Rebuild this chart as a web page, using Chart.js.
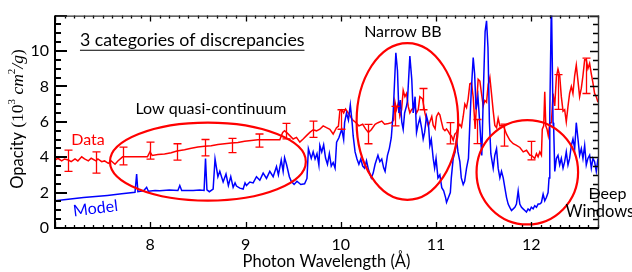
<!DOCTYPE html>
<html>
<head>
<meta charset="utf-8">
<script src="https://cdn.jsdelivr.net/npm/chart.js@4/dist/chart.umd.min.js"></script>
<style>
  html, body { margin: 0; padding: 0; background: #fff; }
</style>
</head>
<body>
<canvas id="chart" width="632" height="272"></canvas>
<script>
// model opacity (blue)
const modelWavelength = [
  7.00, 7.30, 7.55, 7.70, 7.84, 7.857, 7.87, 7.93, 7.962, 7.98, 8.05, 8.10, 8.20, 8.29, 8.31, 8.33, 8.45, 8.52, 8.565, 8.58,
  8.595, 8.62, 8.66, 8.68, 8.71, 8.73, 8.765, 8.795, 8.82, 8.845, 8.87, 8.89, 8.905, 8.94, 8.975, 8.995, 9.01, 9.045, 9.08, 9.115,
  9.15, 9.185, 9.22, 9.255, 9.29, 9.325, 9.345, 9.375, 9.395, 9.41, 9.43, 9.46, 9.48, 9.51, 9.54, 9.58, 9.62, 9.645, 9.66, 9.69,
  9.71, 9.73, 9.75, 9.77, 9.78, 9.80, 9.82, 9.84, 9.86, 9.88, 9.90, 9.92, 9.94, 9.956, 9.98, 10.01, 10.03, 10.04, 10.06, 10.08,
  10.10, 10.12, 10.13, 10.15, 10.17, 10.19, 10.21, 10.23, 10.25, 10.27, 10.29, 10.32, 10.34, 10.36, 10.39, 10.41, 10.43, 10.45, 10.465, 10.49,
  10.51, 10.53, 10.55, 10.578, 10.595, 10.61, 10.625, 10.64, 10.655, 10.67, 10.69, 10.70, 10.725, 10.745, 10.76, 10.78, 10.795, 10.81, 10.83, 10.85,
  10.865, 10.88, 10.90, 10.92, 10.935, 10.95, 10.97, 10.985, 11.00, 11.02, 11.04, 11.06, 11.08, 11.10, 11.11, 11.13, 11.15, 11.16, 11.18, 11.20,
  11.215, 11.23, 11.25, 11.265, 11.285, 11.30, 11.32, 11.34, 11.355, 11.37, 11.39, 11.405, 11.42, 11.44, 11.46, 11.48, 11.50, 11.515, 11.53, 11.545,
  11.56, 11.575, 11.60, 11.617, 11.635, 11.652, 11.67, 11.687, 11.705, 11.722, 11.74, 11.757, 11.774, 11.792, 11.81, 11.827, 11.844, 11.862, 11.879, 11.897,
  11.914, 11.932, 11.949, 11.966, 11.984, 12.00, 12.019, 12.036, 12.054, 12.071, 12.089, 12.106, 12.124, 12.141, 12.158, 12.176, 12.186, 12.194, 12.204, 12.211,
  12.22, 12.228, 12.235, 12.246, 12.263, 12.28, 12.298, 12.315, 12.333, 12.35, 12.367, 12.385, 12.402, 12.42, 12.437, 12.455, 12.472, 12.49, 12.507, 12.525,
  12.542, 12.56, 12.577, 12.594, 12.612, 12.63, 12.647, 12.664, 12.682, 12.70
];
const modelOpacity = [
  1.54, 1.72, 1.84, 1.93, 2.02, 3.05, 2.05, 2.10, 2.30, 2.08, 2.12, 2.10, 2.14, 2.12, 2.40, 2.12, 2.12, 2.14, 2.12, 3.93,
  2.15, 2.05, 2.20, 3.90, 2.90, 3.20, 2.60, 3.05, 2.40, 2.90, 2.30, 2.55, 2.37, 2.25, 2.20, 2.55, 2.40, 2.60, 2.55, 2.90,
  2.70, 3.10, 2.80, 3.20, 2.90, 3.47, 3.00, 3.84, 3.20, 3.97, 3.60, 2.90, 2.64, 2.46, 2.64, 2.46, 2.50, 2.80, 4.48, 3.93,
  4.30, 3.90, 4.20, 3.56, 4.66, 4.30, 4.70, 3.95, 3.60, 4.20, 3.50, 3.70, 3.38, 4.85, 5.10, 5.58, 5.00, 5.95, 6.50, 6.10,
  6.96, 5.90, 5.20, 4.30, 3.90, 3.60, 3.90, 3.50, 3.38, 3.80, 3.30, 2.83, 3.10, 3.60, 4.11, 3.75, 3.90, 3.40, 3.20, 4.10,
  4.50, 5.10, 6.50, 9.90, 8.90, 6.50, 7.23, 6.00, 5.58, 6.50, 6.90, 7.20, 9.71, 8.40, 6.50, 7.42, 5.40, 5.80, 6.20, 5.60,
  5.03, 5.40, 6.32, 5.90, 4.66, 5.00, 3.93, 3.38, 3.93, 2.83, 3.00, 2.28, 2.10, 1.72, 1.45, 1.72, 2.00, 2.83, 3.93, 4.30,
  5.03, 4.30, 3.75, 2.83, 2.46, 2.64, 3.38, 3.93, 5.95, 7.78, 9.63, 8.70, 6.70, 7.42, 5.80, 4.10, 8.34, 11.10, 11.70, 10.20,
  6.00, 4.20, 3.38, 4.11, 4.48, 3.38, 2.83, 3.20, 2.83, 2.28, 1.72, 1.35, 1.17, 0.99, 1.08, 1.17, 1.35, 2.09, 1.35, 1.17,
  1.08, 0.99, 0.90, 1.08, 0.99, 1.17, 1.08, 1.26, 1.17, 1.35, 1.35, 1.44, 1.91, 1.54, 1.72, 2.00, 2.83, 6.50, 10.20, 13.00,
  9.40, 5.95, 5.60, 3.20, 3.93, 4.11, 3.56, 3.93, 3.38, 3.75, 4.30, 3.56, 3.93, 4.66, 5.03, 4.48, 5.95, 5.03, 4.11, 4.48,
  3.93, 4.66, 3.56, 3.93, 4.11, 3.38, 3.93, 3.75, 3.20, 3.93
];

// measured opacity (red)
const dataWavelength = [
  7.00, 7.03, 7.07, 7.10, 7.14, 7.17, 7.21, 7.24, 7.28, 7.31, 7.35, 7.38, 7.43, 7.45, 7.49, 7.52, 7.56, 7.59, 7.63, 7.66,
  7.71, 7.97, 7.997, 8.02, 8.08, 8.15, 8.22, 8.28, 8.36, 8.43, 8.50, 8.57, 8.64, 8.71, 8.78, 8.85, 8.92, 8.99, 9.06, 9.13,
  9.36, 9.39, 9.41, 9.43, 9.465, 9.50, 9.535, 9.57, 9.605, 9.64, 9.675, 9.71, 9.745, 9.78, 9.815, 9.85, 9.885, 9.92, 9.955, 9.975,
  9.99, 10.01, 10.03, 10.05, 10.09, 10.12, 10.16, 10.19, 10.23, 10.26, 10.29, 10.32, 10.36, 10.39, 10.43, 10.46, 10.50, 10.533, 10.555, 10.568,
  10.585, 10.603, 10.62, 10.638, 10.655, 10.673, 10.69, 10.708, 10.725, 10.743, 10.778, 10.795, 10.813, 10.83, 10.858, 10.883, 10.90, 10.918, 10.935, 10.955,
  10.97, 10.99, 11.005, 11.025, 11.04, 11.057, 11.075, 11.093, 11.11, 11.13, 11.145, 11.162, 11.18, 11.197, 11.215, 11.232, 11.25, 11.267, 11.285, 11.302,
  11.32, 11.337, 11.355, 11.372, 11.39, 11.41, 11.425, 11.442, 11.46, 11.477, 11.495, 11.512, 11.53, 11.547, 11.565, 11.582, 11.60, 11.617, 11.635, 11.652,
  11.67, 11.705, 11.74, 11.775, 11.81, 11.845, 11.88, 11.915, 11.95, 11.985, 12.00, 12.036, 12.054, 12.071, 12.089, 12.106, 12.115, 12.13, 12.141, 12.152,
  12.165, 12.178, 12.194, 12.211, 12.228, 12.246, 12.263, 12.28, 12.298, 12.315, 12.333, 12.35, 12.367, 12.385, 12.402, 12.42, 12.437, 12.455, 12.472, 12.49,
  12.507, 12.525, 12.542, 12.56, 12.577, 12.594, 12.612, 12.63, 12.647, 12.664, 12.682, 12.70
];
const dataOpacity = [
  3.84, 3.94, 3.79, 3.90, 3.84, 3.75, 3.90, 3.79, 4.02, 3.90, 3.79, 3.94, 3.79, 3.90, 3.75, 3.79, 3.65, 3.79, 3.60, 3.79,
  4.02, 4.02, 4.30, 4.10, 4.15, 4.18, 4.25, 4.35, 4.42, 4.50, 4.57, 4.62, 4.65, 4.72, 4.76, 4.80, 4.83, 4.90, 4.95, 4.98,
  4.98, 5.40, 5.50, 5.40, 5.22, 5.03, 5.12, 4.85, 5.03, 5.22, 5.40, 5.55, 5.49, 5.58, 5.77, 5.67, 5.58, 5.31, 5.67, 5.75,
  6.60, 6.68, 6.50, 6.72, 6.40, 6.13, 5.95, 5.77, 5.86, 5.60, 5.40, 5.55, 5.86, 5.95, 6.04, 5.86, 5.90, 5.95, 6.10, 7.14,
  6.68, 7.05, 6.32, 6.68, 7.78, 7.42, 7.60, 6.87, 6.50, 6.68, 6.87, 6.50, 6.68, 7.42, 7.30, 6.50, 6.13, 5.77, 6.00, 6.30,
  5.80, 5.60, 6.30, 6.50, 6.40, 6.00, 5.60, 5.50, 5.60, 5.45, 5.30, 5.20, 4.95, 5.30, 5.40, 5.70, 5.85, 5.70, 6.30, 7.00,
  6.80, 7.30, 8.15, 8.20, 7.40, 5.60, 7.00, 8.40, 8.30, 7.60, 6.90, 7.20, 7.10, 8.10, 8.50, 7.60, 6.60, 5.80, 5.67, 6.20,
  5.77, 5.80, 5.30, 4.95, 4.76, 4.67, 4.55, 4.30, 4.39, 4.11, 4.11, 3.93, 4.20, 4.02, 4.30, 4.11, 5.58, 5.77, 7.70, 5.77,
  5.58, 5.22, 5.95, 5.95, 7.60, 6.90, 8.52, 8.98, 8.60, 7.42, 6.60, 6.68, 6.00, 6.87, 7.60, 8.00, 7.60, 8.60, 9.20, 8.30,
  7.42, 7.90, 8.60, 9.50, 9.50, 9.00, 9.30, 8.70, 8.20, 7.60, 7.42, 7.10
];

// error bars on the measured data
const errWavelength = [7.14, 7.43, 7.71, 8.00, 8.28, 8.57, 8.86, 9.14, 9.42, 9.71, 10.00, 10.29, 10.57, 10.86, 11.145, 11.425, 11.71, 12.00, 12.28, 12.57];
const errCenter = [3.80, 3.70, 4.07, 4.37, 4.30, 4.54, 4.66, 4.94, 5.47, 5.58, 6.13, 5.31, 6.32, 7.28, 5.35, 5.45, 5.25, 4.37, 7.68, 8.60];
const errHalf = [0.60, 0.60, 0.50, 0.48, 0.46, 0.46, 0.40, 0.37, 0.44, 0.46, 0.55, 0.55, 0.55, 0.60, 0.60, 0.68, 0.62, 0.52, 0.98, 1.00];

// axis ticks
const xTickValues = [8, 9, 10, 11, 12];
const yTickValues = [0, 2, 4, 6, 8, 10];

// circled regions (data units)
const ringCenterX = [8.605, 10.699, 11.958];
const ringCenterY = [3.75, 6.02, 3.15];
const ringRadiusX = [1.028, 0.533, 0.533];
const ringRadiusY = [2.2, 4.43, 2.95];

const RED = '#ff0000';
const BLUE = '#0000ff';
const FONT = 'Lato, "Open Sans", sans-serif';

const toPoints = (xs, ys) => xs.map((x, i) => ({ x, y: ys[i] }));

// frame, inward ticks, error bars, rings and notes
const decorations = {
  id: 'decorations',
  afterDatasetsDraw(chart) {
    const { ctx, chartArea: a, scales: { x, y } } = chart;
    ctx.save();

    ctx.strokeStyle = RED;
    ctx.lineWidth = 1.3;
    errWavelength.forEach((w, i) => {
      const px = Math.round(x.getPixelForValue(w)) + 0.5;
      const top = y.getPixelForValue(errCenter[i] + errHalf[i]);
      const bot = y.getPixelForValue(errCenter[i] - errHalf[i]);
      ctx.beginPath();
      ctx.moveTo(px, top); ctx.lineTo(px, bot);
      ctx.moveTo(px - 4, top); ctx.lineTo(px + 4, top);
      ctx.moveTo(px - 4, bot); ctx.lineTo(px + 4, bot);
      ctx.stroke();
    });

    ctx.lineWidth = 2.2;
    ringCenterX.forEach((cx, i) => {
      const px = x.getPixelForValue(cx);
      const py = y.getPixelForValue(ringCenterY[i]);
      const rx = x.getPixelForValue(cx + ringRadiusX[i]) - px;
      const ry = py - y.getPixelForValue(ringCenterY[i] + ringRadiusY[i]);
      ctx.beginPath();
      ctx.ellipse(px, py, rx, ry, 0, 0, Math.PI * 2);
      ctx.stroke();
    });

    // ticks
    ctx.strokeStyle = '#000';
    ctx.lineWidth = 1.3;
    ctx.beginPath();
    for (let k = 70; k <= 127; k++) {
      const px = Math.round(x.getPixelForValue(k / 10)) + 0.5;
      const major = k % 10 === 0;
      ctx.moveTo(px, a.bottom); ctx.lineTo(px, a.bottom - (major ? 6 : 3));
      ctx.moveTo(px, a.top); ctx.lineTo(px, a.top + (major ? 6 : 3));
    }
    for (let k = 0; k <= 24; k++) {
      const py = Math.round(y.getPixelForValue(k / 2)) + 0.5;
      const major = k % 4 === 0;
      ctx.moveTo(a.right, py); ctx.lineTo(a.right - (major ? 8 : 5), py);
    }
    ctx.stroke();
    ctx.lineWidth = 2;
    ctx.beginPath();
    for (let k = 0; k <= 24; k++) {
      const py = Math.round(y.getPixelForValue(k / 2));
      const major = k % 4 === 0;
      ctx.moveTo(a.left, py); ctx.lineTo(a.left + (major ? 12 : 6), py);
    }
    ctx.stroke();

    // frame
    ctx.strokeStyle = '#333';
    ctx.lineWidth = 1.4;
    ctx.beginPath();
    ctx.moveTo(a.left, a.top + 0.5); ctx.lineTo(a.right + 0.5, a.top + 0.5);
    ctx.lineTo(a.right + 0.5, a.bottom);
    ctx.stroke();
    ctx.strokeStyle = '#000';
    ctx.lineWidth = 2;
    ctx.beginPath();
    ctx.moveTo(a.left, a.top); ctx.lineTo(a.left, a.bottom);
    ctx.lineTo(a.right + 1, a.bottom);
    ctx.stroke();

    // notes
    const note = (text, wx, wy, color, size, align, angle) => {
      ctx.save();
      ctx.translate(x.getPixelForValue(wx), y.getPixelForValue(wy));
      if (angle) ctx.rotate(angle * Math.PI / 180);
      ctx.font = size + 'px ' + FONT;
      ctx.fillStyle = color;
      ctx.textAlign = align;
      ctx.textBaseline = 'middle';
      ctx.fillText(text, 0, 0);
      const w = ctx.measureText(text).width;
      ctx.restore();
      return w;
    };
    const tw = note('3 categories of discrepancies', 7.262, 10.58, '#000', 17.8, 'left');
    const ux = x.getPixelForValue(7.262);
    const uy = y.getPixelForValue(10.58) + 9.5;
    ctx.strokeStyle = '#000';
    ctx.lineWidth = 1.2;
    ctx.beginPath(); ctx.moveTo(ux, uy); ctx.lineTo(ux + tw, uy); ctx.stroke();

    note('Low quasi-continuum', 8.637, 6.72, '#000', 16, 'center');
    note('Narrow BB', 10.652, 11.06, '#000', 16, 'center');
    note('Data', 7.346, 4.96, RED, 16, 'center');
    note('Model', 7.425, 1.10, BLUE, 16, 'center', -7);
    note('Deep', 12.80, 1.94, '#000', 16, 'center');
    note('Windows', 12.72, 0.90, '#000', 16.5, 'center');

    // axis titles
    ctx.fillStyle = '#000';
    ctx.textBaseline = 'middle';
    ctx.textAlign = 'left';
    ctx.font = '16.5px ' + FONT;
    const xt = 'Photon Wavelength (Å)';
    ctx.fillText(xt, (a.left + a.right) / 2 - ctx.measureText(xt).width / 2, 262);

    const parts = [
      ['Opacity ', '16.5px ' + FONT, 0],
      ['(10', '17.5px "Liberation Serif", serif', 0],
      ['3', '11px "Liberation Serif", serif', -6],
      [' ', '17.5px "Liberation Serif", serif', 0],
      ['cm', 'italic 17.5px "Liberation Serif", serif', 0],
      ['2', '11px "Liberation Serif", serif', -6],
      ['/g', 'italic 17.5px "Liberation Serif", serif', 0],
      [')', '17.5px "Liberation Serif", serif', 0],
    ];
    let total = 0;
    parts.forEach(([t, f]) => { ctx.font = f; total += ctx.measureText(t).width; });
    ctx.save();
    ctx.translate(18, 119);
    ctx.rotate(-Math.PI / 2);
    let cx = -total / 2;
    parts.forEach(([t, f, dy]) => {
      ctx.font = f;
      ctx.fillText(t, cx, dy);
      cx += ctx.measureText(t).width;
    });
    ctx.restore();

    ctx.restore();
  },
};

new Chart(document.getElementById('chart'), {
  type: 'line',
  data: {
    datasets: [
      { label: 'Model', data: toPoints(modelWavelength, modelOpacity), borderColor: BLUE, borderWidth: 1.5, pointRadius: 0, tension: 0, order: 0 },
      { label: 'Data', data: toPoints(dataWavelength, dataOpacity), borderColor: RED, borderWidth: 1.5, pointRadius: 0, tension: 0, order: 1 },
    ],
  },
  options: {
    responsive: false,
    animation: false,
    devicePixelRatio: 1,
    layout: { padding: { top: 10, right: 34, left: 0, bottom: 0 } },
    plugins: { legend: { display: false }, tooltip: { enabled: false } },
    scales: {
      x: {
        type: 'linear', min: 7, max: 12.7,
        afterFit: (s) => { s.height = 44; },
        afterBuildTicks: (s) => { s.ticks = xTickValues.map((value) => ({ value })); },
        grid: { display: false, drawTicks: false },
        border: { display: false },
        ticks: { color: '#000', font: { family: FONT, size: 16 }, padding: 7, maxRotation: 0 },
      },
      y: {
        type: 'linear', min: 0, max: 12,
        afterFit: (s) => { s.width = 55; },
        afterBuildTicks: (s) => { s.ticks = yTickValues.map((value) => ({ value })); },
        grid: { display: false, drawTicks: false },
        border: { display: false },
        ticks: { color: '#000', font: { family: FONT, size: 16 }, padding: 6 },
      },
    },
  },
  plugins: [decorations],
});
</script>
</body>
</html>
